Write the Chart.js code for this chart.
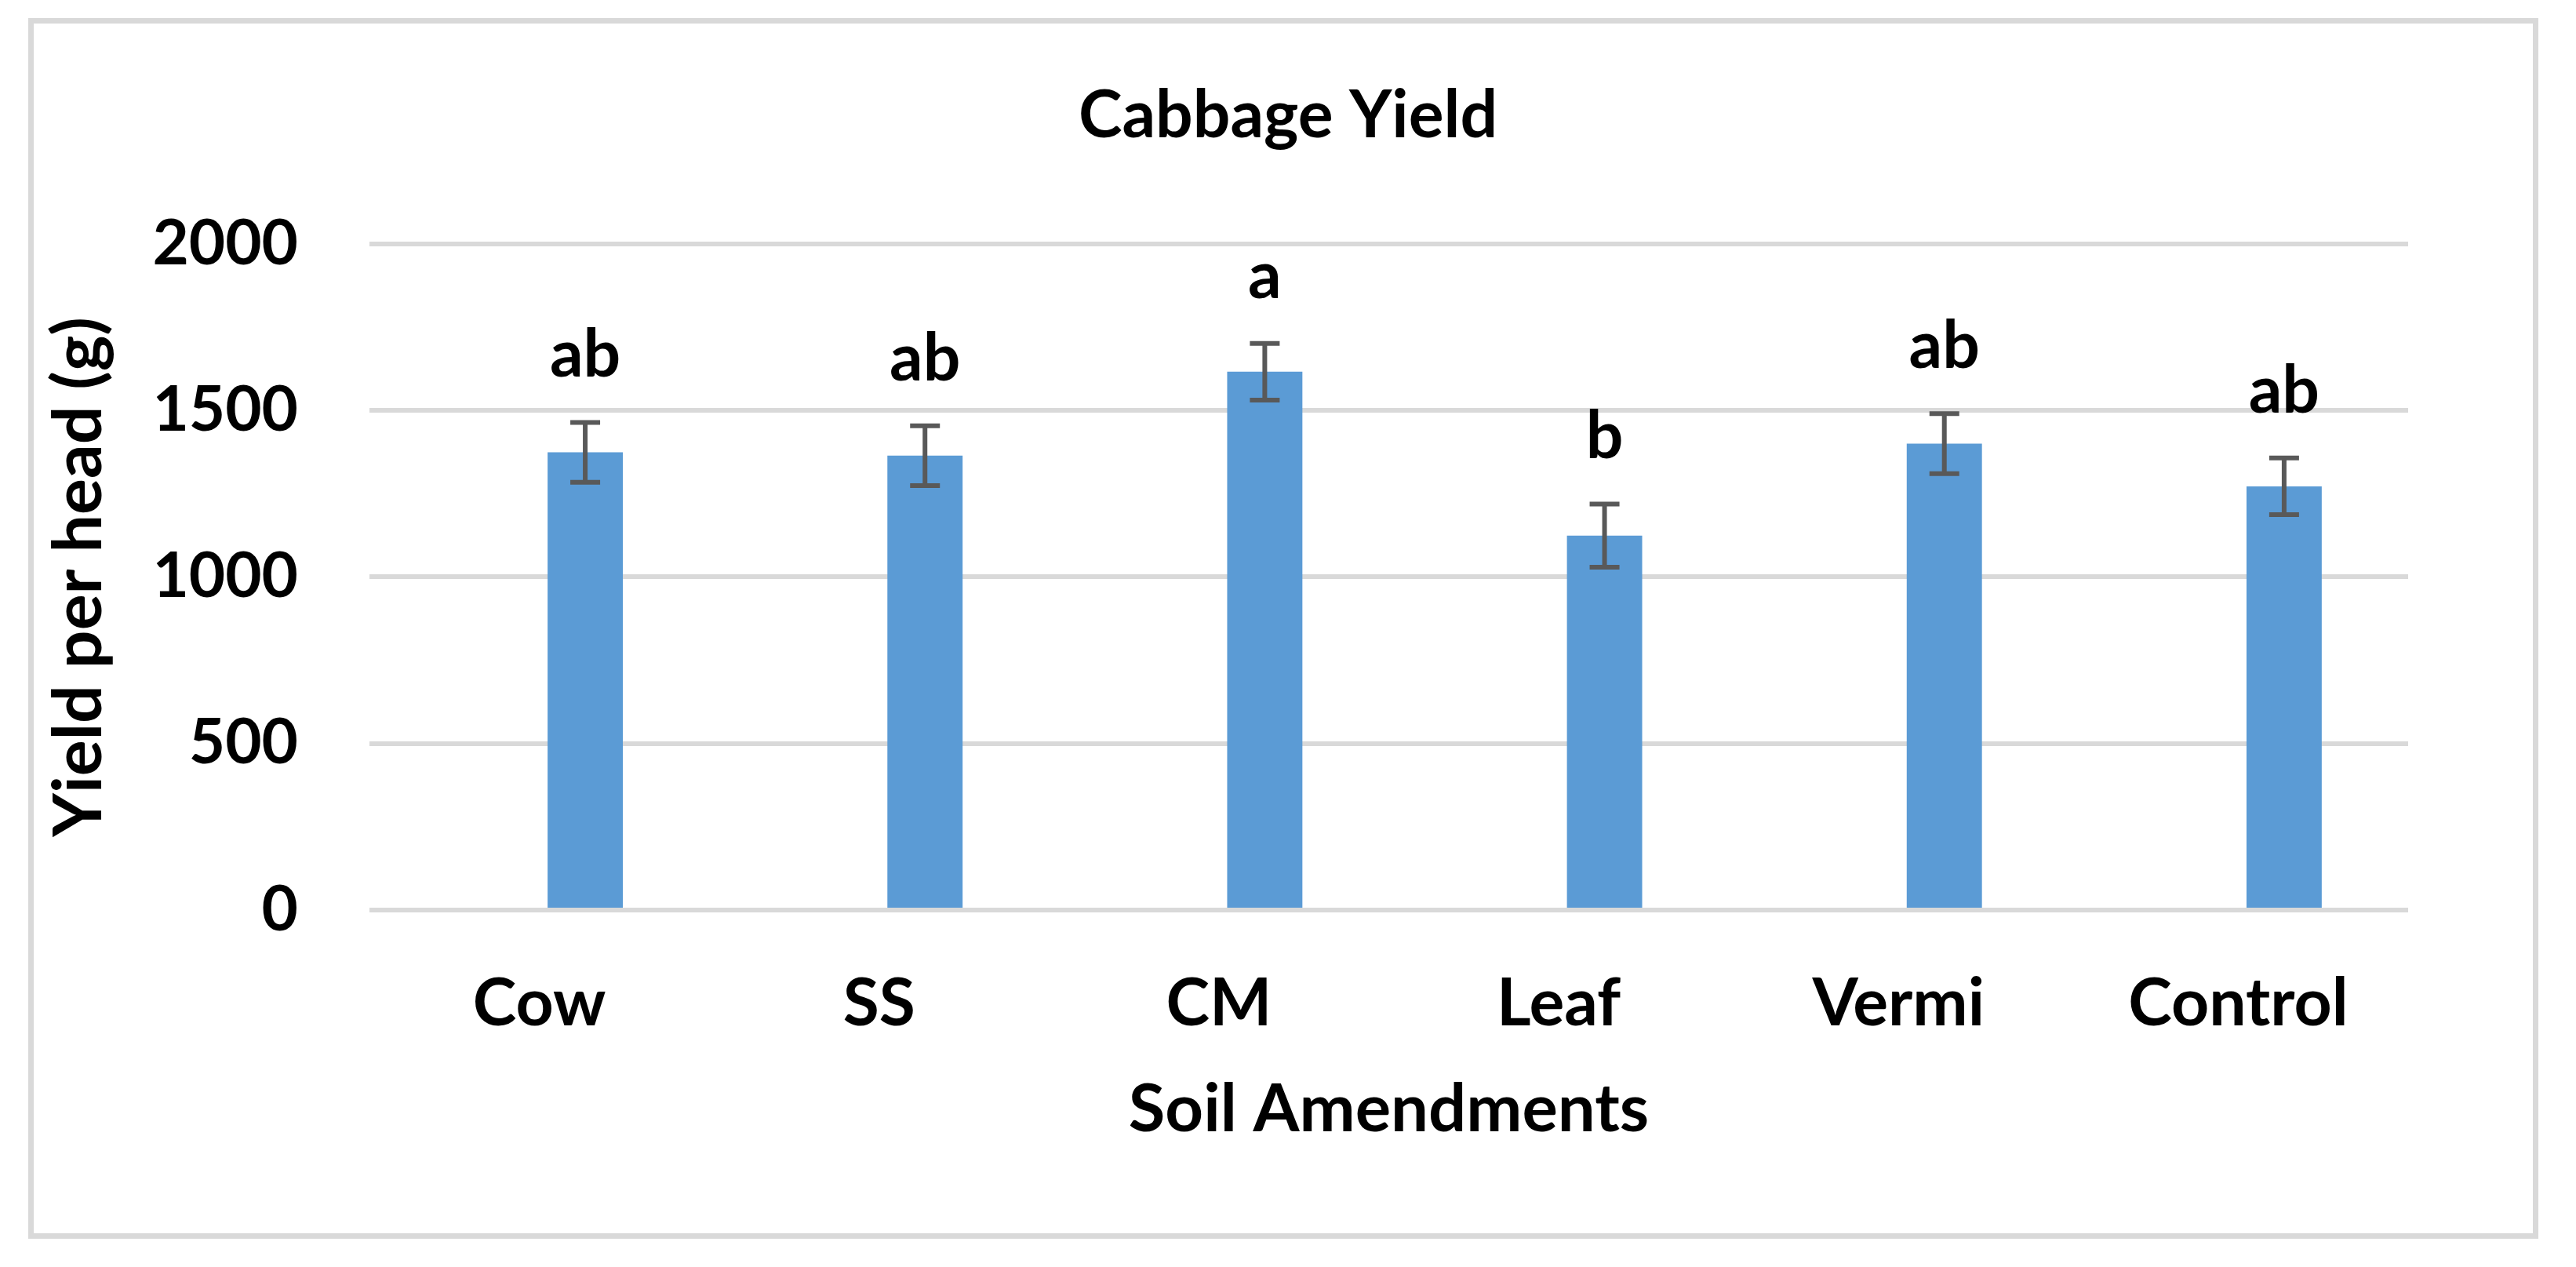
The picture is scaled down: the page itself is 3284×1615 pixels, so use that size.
<!DOCTYPE html>
<html>
<head>
<meta charset="utf-8">
<script src="https://cdn.jsdelivr.net/npm/chart.js@4/dist/chart.umd.min.js"></script>
<style>
  html, body { margin: 0; padding: 0; background: #ffffff; }
  canvas { display: block; }
</style>
</head>
<body>
<canvas id="c" width="3284" height="1615"></canvas>
<script>
// ---- data ----
const categories = ['Cow', 'SS', 'CM', 'Leaf', 'Vermi', 'Control'];
const yieldMeans = [1374, 1364, 1616, 1124, 1400, 1272];
const yieldErrors = [90, 90, 85, 95, 90, 85];
const groupLetters = ['ab', 'ab', 'a', 'b', 'ab', 'ab'];
const spacerSeries = [null, null, null, null, null, null];
const yTickValues = [0, 500, 1000, 1500, 2000];

const FONT = 'Lato, "Open Sans", sans-serif';

const frameBorder = {
  id: 'frameBorder',
  beforeDraw(chart) {
    const ctx = chart.ctx;
    ctx.save();
    ctx.fillStyle = '#ffffff';
    ctx.fillRect(0, 0, chart.width, chart.height);
    ctx.strokeStyle = '#d9d9d9';
    ctx.lineWidth = 7;
    ctx.strokeRect(39.5, 26.5, 3193, 1549);
    ctx.restore();
  }
};

const errorBarsAndLetters = {
  id: 'errorBarsAndLetters',
  afterDatasetsDraw(chart) {
    const ctx = chart.ctx;
    const meta = chart.getDatasetMeta(1);
    const yScale = chart.scales.y;
    ctx.save();
    meta.data.forEach((bar, i) => {
      const v = yieldMeans[i], e = yieldErrors[i];
      const top = yScale.getPixelForValue(v + e);
      const bot = yScale.getPixelForValue(v - e);
      const x = bar.x;
      ctx.strokeStyle = '#595959';
      ctx.lineWidth = 6;
      ctx.beginPath();
      ctx.moveTo(x, top); ctx.lineTo(x, bot);
      ctx.moveTo(x - 19, top); ctx.lineTo(x + 19, top);
      ctx.moveTo(x - 19, bot); ctx.lineTo(x + 19, bot);
      ctx.stroke();
      ctx.fillStyle = '#000000';
      ctx.font = 'bold 84px ' + FONT;
      ctx.textAlign = 'center';
      ctx.textBaseline = 'alphabetic';
      ctx.fillText(groupLetters[i], x, top - 58);
    });
    ctx.restore();
  }
};

new Chart(document.getElementById('c'), {
  type: 'bar',
  data: {
    labels: categories,
    datasets: [
      { label: '', data: spacerSeries, backgroundColor: 'rgba(0,0,0,0)' },
      { label: 'Yield per head (g)', data: yieldMeans, backgroundColor: '#5b9bd5', borderWidth: 0 }
    ]
  },
  options: {
    responsive: false,
    devicePixelRatio: 1,
    animation: false,
    categoryPercentage: 0.54,
    barPercentage: 0.82,
    layout: { padding: { left: 0, right: 0, top: 0, bottom: 0 } },
    plugins: {
      legend: { display: false },
      tooltip: { enabled: false },
      title: {
        display: true,
        text: 'Cabbage Yield',
        color: '#000000',
        font: { family: FONT, size: 84, weight: 'bold' },
        padding: { top: 98, bottom: 112 }
      }
    },
    scales: {
      x: {
        grid: { display: false, drawTicks: false },
        border: { display: false },
        ticks: {
          color: '#000000',
          font: { family: FONT, size: 84, weight: 'bold' },
          padding: 70,
          maxRotation: 0
        },
        title: {
          display: true,
          text: 'Soil Amendments',
          color: '#000000',
          font: { family: FONT, size: 85, weight: 'bold' },
          padding: { top: 0, bottom: 149 }
        },
        afterFit(s) { s.height = 455; }
      },
      y: {
        min: 0,
        max: 2000,
        afterBuildTicks(s) { s.ticks = yTickValues.map(v => ({ value: v })); },
        grid: { color: '#d9d9d9', lineWidth: 6, drawTicks: false },
        border: { display: false },
        ticks: {
          color: '#000000',
          font: { family: FONT, size: 80, weight: 'bold' },
          padding: 91,
          callback: (value) => String(value)
        },
        title: {
          display: true,
          text: 'Yield per head (g)',
          color: '#000000',
          font: { family: FONT, size: 86, weight: 'bold' },
          padding: { top: 50, bottom: 0 }
        },
        afterFit(s) { s.width = 471; }
      },
      yRight: {
        position: 'right',
        display: true,
        grid: { display: false, drawTicks: false },
        border: { display: false },
        ticks: { display: false },
        afterFit(s) { s.width = 214; }
      }
    }
  },
  plugins: [frameBorder, errorBarsAndLetters]
});
</script>
</body>
</html>
